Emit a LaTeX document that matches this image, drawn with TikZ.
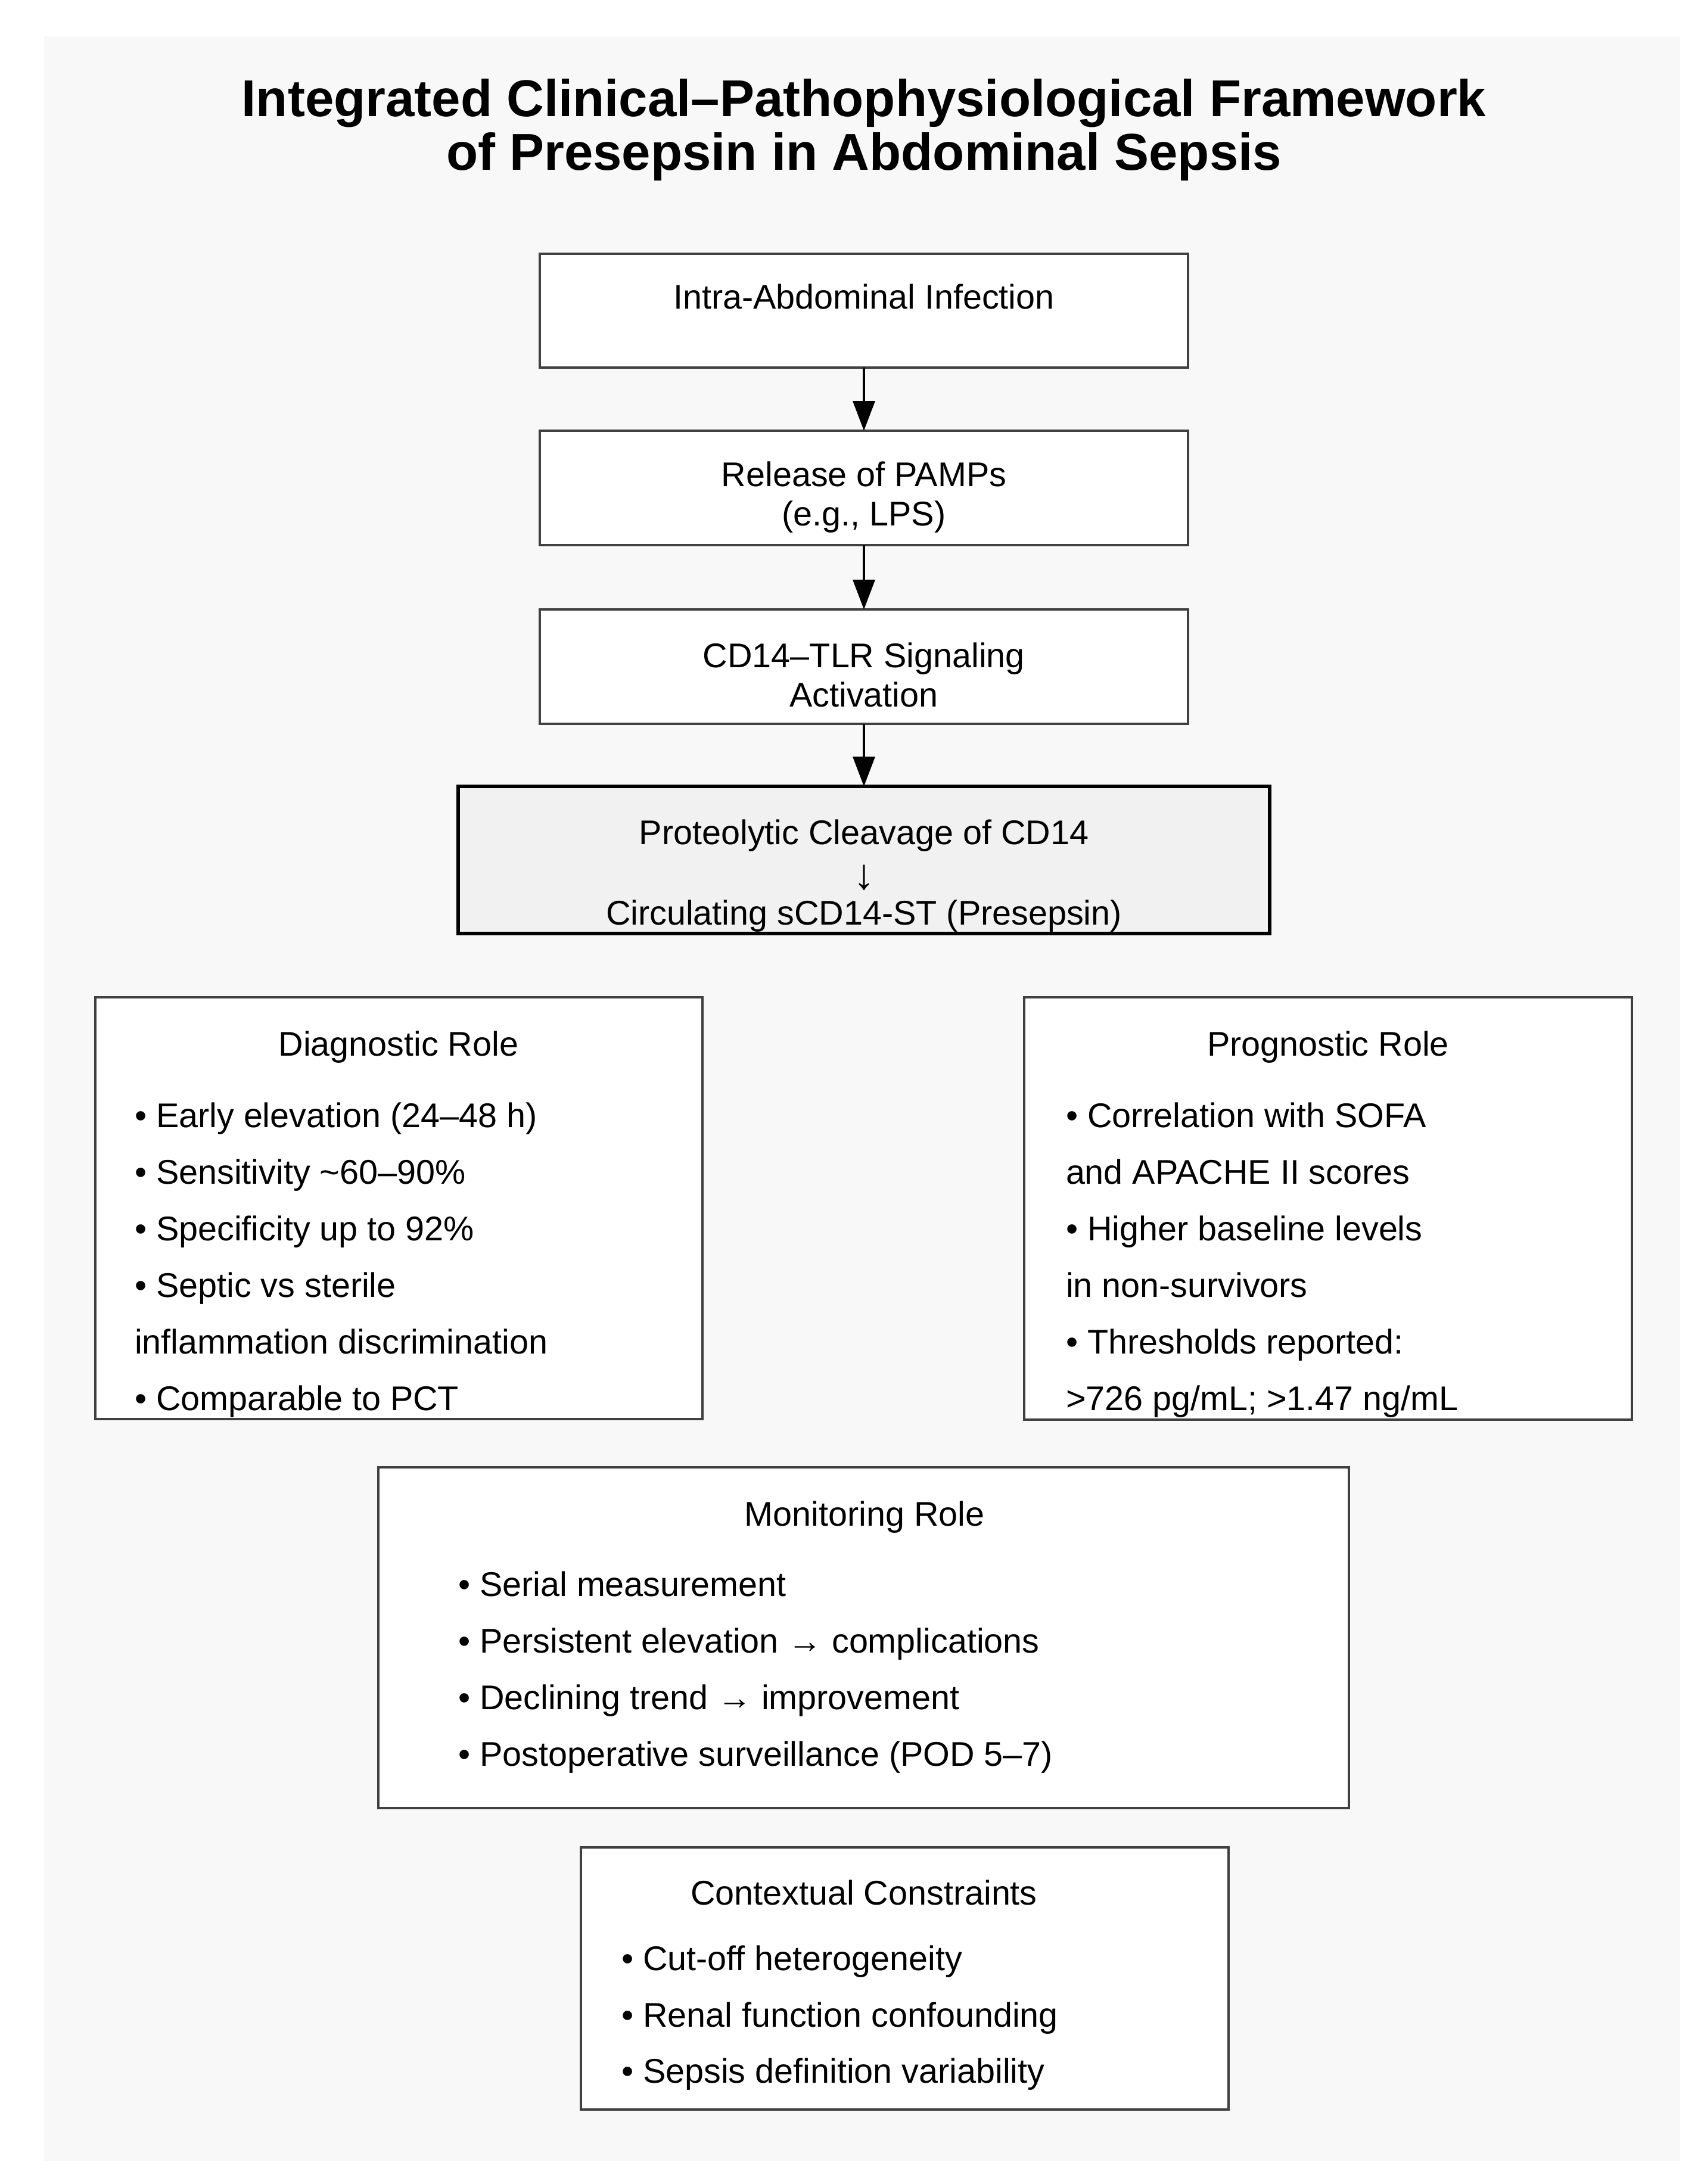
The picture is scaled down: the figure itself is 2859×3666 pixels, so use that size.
\documentclass[tikz,border=0pt]{standalone}
\usepackage{fontspec}
\setmainfont{Liberation Sans}
\usetikzlibrary{arrows.meta}
\definecolor{bgc}{HTML}{F8F8F8}
\definecolor{bord}{HTML}{404040}
\definecolor{keyfill}{HTML}{F1F1F1}
\begin{document}
\begin{tikzpicture}[x=1pt,y=-1pt,
  box/.style={draw=bord, line width=4pt, fill=white, inner sep=0pt, outer sep=0pt},
  keybox/.style={draw=black, line width=6pt, fill=keyfill, inner sep=0pt, outer sep=0pt},
  txt/.style={inner sep=0pt, outer sep=0pt, text=black, font=\fontsize{57.5}{66}\selectfont},
  ttl/.style={inner sep=0pt, outer sep=0pt, text=black, font=\fontsize{87}{90}\selectfont\bfseries},
  arr/.style={line width=3.5pt, draw=black, -{Triangle[length=50pt,width=37pt]}}
]
\useasboundingbox (0,0) rectangle (2859,3666);
\fill[white] (0,0) rectangle (2859,3666);
\fill[bgc] (74,61) rectangle (2820,3627);

% title
\node[ttl, anchor=base] (t1) at (1450,196) {Integrated Clinical–Pathophysiological Framework};
\node[ttl, anchor=base] (t2) at (1450,286) {of Presepsin in Abdominal Sepsis};

% flow boxes
\node[box, minimum width=1088pt, minimum height=191pt] (b1) at (1450,521.5) {};
\node[box, minimum width=1088pt, minimum height=192pt] (b2) at (1450,819) {};
\node[box, minimum width=1088pt, minimum height=192pt] (b3) at (1450,1119) {};
\node[keybox, minimum width=1362pt, minimum height=247pt] (b4) at (1450,1443.5) {};

\node[txt, anchor=base] (b1t) at (1450,518) {Intra-Abdominal Infection};
\node[txt, anchor=base] (b2t1) at (1450,816) {Release of PAMPs};
\node[txt, anchor=base] (b2t2) at (1450,882) {(e.g., LPS)};
\node[txt, anchor=base] (b3t1) at (1450,1120) {CD14–TLR Signaling};
\node[txt, anchor=base] (b3t2) at (1450,1186) {Activation};
\node[txt, anchor=base] (b4t1) at (1450,1417) {Proteolytic Cleavage of CD14};
\node[txt, anchor=base, font=\fontsize{72}{72}\selectfont] (b4t2) at (1450,1492) {↓};
\node[txt, anchor=base] (b4t3) at (1450,1552) {Circulating sCD14-ST (Presepsin)};

\draw[arr] (b1.south) -- (b2.north);
\draw[arr] (b2.south) -- (b3.north);
\draw[arr] (b3.south) -- (b4.north);

% diagnostic
\node[box, minimum width=1019pt, minimum height=708pt] (diag) at (669.5,2028) {};
\node[txt, anchor=base] (diagt) at (669,1772) {Diagnostic Role};
\node[txt, anchor=base west] (d1) at (226,1892) {• Early elevation (24–48 h)};
\node[txt, anchor=base west] (d2) at (226,1987) {• Sensitivity \textasciitilde 60–90\%};
\node[txt, anchor=base west] (d3) at (226,2082) {• Specificity up to 92\%};
\node[txt, anchor=base west] (d4) at (226,2177) {• Septic vs sterile};
\node[txt, anchor=base west] (d5) at (226,2272) {inflammation discrimination};
\node[txt, anchor=base west] (d6) at (226,2367) {• Comparable to PCT};

% prognostic
\node[box, minimum width=1020pt, minimum height=709pt] (prog) at (2229,2028.5) {};
\node[txt, anchor=base] (progt) at (2229,1772) {Prognostic Role};
\node[txt, anchor=base west] (p1) at (1789,1892) {• Correlation with SOFA};
\node[txt, anchor=base west] (p2) at (1789,1987) {and APACHE II scores};
\node[txt, anchor=base west] (p3) at (1789,2082) {• Higher baseline levels};
\node[txt, anchor=base west] (p4) at (1789,2177) {in non-survivors};
\node[txt, anchor=base west] (p5) at (1789,2272) {• Thresholds reported:};
\node[txt, anchor=base west] (p6) at (1789,2367) {>726 pg/mL; >1.47 ng/mL};

% monitoring
\node[box, minimum width=1629pt, minimum height=572pt] (mon) at (1449.5,2749) {};
\node[txt, anchor=base] (mont) at (1451,2561) {Monitoring Role};
\node[txt, anchor=base west] (m1) at (769,2679) {• Serial measurement};
\node[txt, anchor=base west] (m2) at (769,2774) {• Persistent elevation → complications};
\node[txt, anchor=base west] (m3) at (769,2869) {• Declining trend → improvement};
\node[txt, anchor=base west] (m4) at (769,2964) {• Postoperative surveillance (POD 5–7)};

% contextual
\node[box, minimum width=1087pt, minimum height=440pt] (ctx) at (1518.5,3321) {};
\node[txt, anchor=base] (ctxt) at (1450,3197) {Contextual Constraints};
\node[txt, anchor=base west] (c1) at (1043,3307) {• Cut-off heterogeneity};
\node[txt, anchor=base west] (c2) at (1043,3402) {• Renal function confounding};
\node[txt, anchor=base west] (c3) at (1043,3496) {• Sepsis definition variability};
\end{tikzpicture}
\end{document}
